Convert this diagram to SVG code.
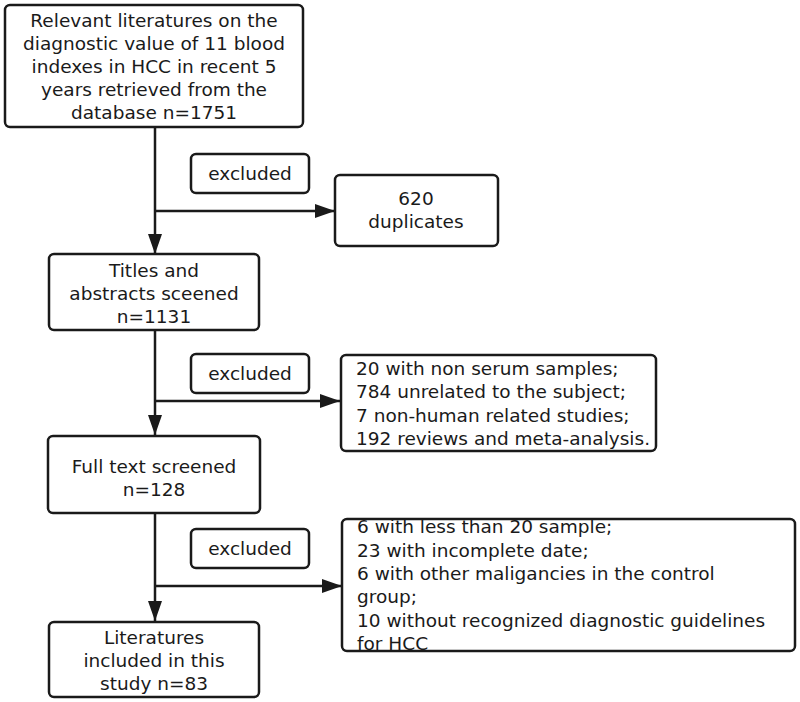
<svg xmlns="http://www.w3.org/2000/svg" width="800" height="702" viewBox="0 0 800 702">
<style>
.box{fill:#fff;stroke:#1a1a1a;stroke-width:2.5}
.t{font-family:"DejaVu Sans","Noto Sans",sans-serif;font-size:18.5px;fill:#1a1a1a}
.c{text-anchor:middle}
.ln{stroke:#1a1a1a;stroke-width:2.5;fill:none}
</style>
<defs>
<marker id="ah" markerWidth="20" markerHeight="14" refX="20" refY="7" orient="auto" markerUnits="userSpaceOnUse">
<path d="M0,0 L20,7 L0,14 Z" fill="#1a1a1a"/>
</marker>
<clipPath id="clip3"><rect x="343" y="520" width="451" height="130"/></clipPath>
</defs>
<g id="connectors">
<line class="ln" x1="155" y1="127" x2="155" y2="254" marker-end="url(#ah)"/>
<line class="ln" x1="155" y1="211" x2="335" y2="211" marker-end="url(#ah)"/>
<line class="ln" x1="155" y1="330" x2="155" y2="435" marker-end="url(#ah)"/>
<line class="ln" x1="155" y1="401" x2="340" y2="401" marker-end="url(#ah)"/>
<line class="ln" x1="155" y1="513" x2="155" y2="621" marker-end="url(#ah)"/>
<line class="ln" x1="155" y1="586" x2="342" y2="586" marker-end="url(#ah)"/>
</g>
<g id="n1">
<rect class="box" x="5" y="5" width="298" height="122" rx="5"/>
<text class="t c"><tspan x="154" y="27">Relevant literatures on the</tspan><tspan x="154" y="50">diagnostic value of 11 blood</tspan><tspan x="154" y="73">indexes in HCC in recent 5</tspan><tspan x="154" y="96">years retrieved from the</tspan><tspan x="154" y="119">database n=1751</tspan></text>
</g>
<g id="ex1">
<rect class="box" x="191" y="154" width="118" height="39" rx="5"/>
<text class="t c" x="250" y="180">excluded</text>
</g>
<g id="d1">
<rect class="box" x="335" y="175" width="163" height="71" rx="5"/>
<text class="t c"><tspan x="416" y="205">620</tspan><tspan x="416" y="228">duplicates</tspan></text>
</g>
<g id="n2">
<rect class="box" x="49" y="254" width="210" height="76" rx="5"/>
<text class="t c"><tspan x="154" y="277">Titles and</tspan><tspan x="154" y="300">abstracts sceened</tspan><tspan x="154" y="323">n=1131</tspan></text>
</g>
<g id="ex2">
<rect class="box" x="191" y="354" width="118" height="39" rx="5"/>
<text class="t c" x="250" y="380">excluded</text>
</g>
<g id="d2">
<rect class="box" x="341" y="355" width="315" height="96" rx="5"/>
<text class="t"><tspan x="356" y="375">20 with non serum samples;</tspan><tspan x="356" y="398">784 unrelated to the subject;</tspan><tspan x="356" y="422">7 non-human related studies;</tspan><tspan x="356" y="445">192 reviews and meta-analysis.</tspan></text>
</g>
<g id="n3">
<rect class="box" x="48" y="436" width="212" height="77" rx="5"/>
<text class="t c"><tspan x="154" y="473">Full text screened</tspan><tspan x="154" y="496">n=128</tspan></text>
</g>
<g id="ex3">
<rect class="box" x="191" y="529" width="118" height="39" rx="5"/>
<text class="t c" x="250" y="555">excluded</text>
</g>
<g id="d3">
<rect class="box" x="342" y="519" width="453" height="132" rx="5"/>
<text class="t" clip-path="url(#clip3)"><tspan x="357" y="533">6 with less than 20 sample;</tspan><tspan x="357" y="557">23 with incomplete date;</tspan><tspan x="357" y="580">6 with other maligancies in the control</tspan><tspan x="357" y="603">group;</tspan><tspan x="357" y="627">10 without recognized diagnostic guidelines</tspan><tspan x="357" y="650">for HCC</tspan></text>
</g>
<g id="n4">
<rect class="box" x="49" y="622" width="210" height="75" rx="5"/>
<text class="t c"><tspan x="154" y="644">Literatures</tspan><tspan x="154" y="667">included in this</tspan><tspan x="154" y="690">study n=83</tspan></text>
</g>
</svg>
